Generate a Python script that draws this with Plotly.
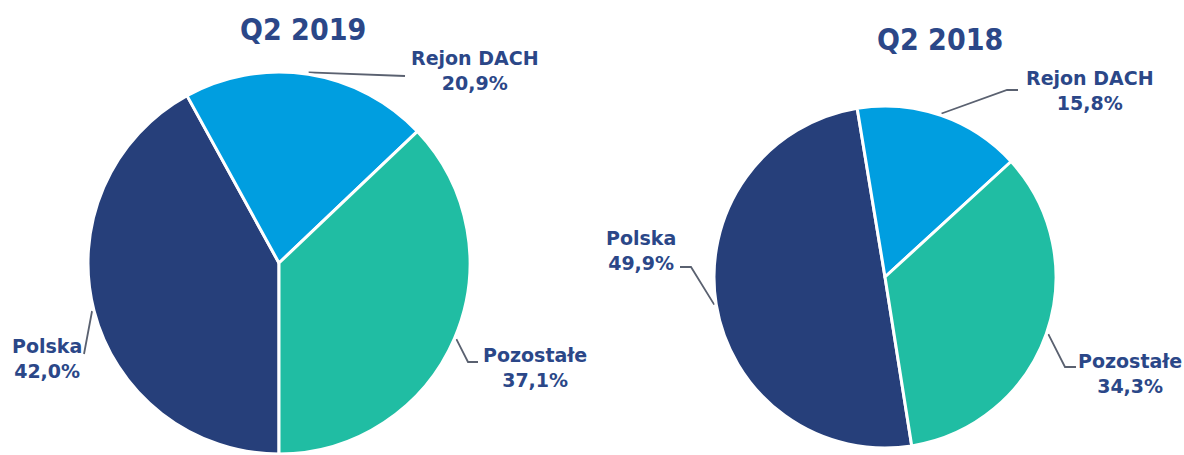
import math
import plotly.graph_objects as go

# ---- data ----
categories = ["Polska", "Rejon DACH", "Pozostałe"]
titles = ["Q2 2019", "Q2 2018"]
values_2019 = [42.0, 20.9, 37.1]
values_2018 = [49.9, 15.8, 34.3]

# ---- style / layout ----
W, H = 1184, 455
colors = ["#263F7A", "#009EE0", "#20BDA3"]
text_color = "#2B4788"
line_color = "#5A6170"
label_font = dict(family="DejaVu Sans, Verdana, sans-serif", size=19, color=text_color, weight="bold")
title_font = dict(family="DejaVu Sans Condensed, DejaVu Sans, sans-serif", size=30, color=text_color, weight="bold")

pies = [
    dict(values=values_2019, title=titles[0], cx=279, cy=263, r=191, rotation=180,
         title_xy=(303, 29),
         label_xy=[(47, 358), (475, 70), (535, 367)],
         leader=[[(84, 354)], [(405, 76)], [(468, 362), (478, 362)]]),
    dict(values=values_2018, title=titles[1], cx=885, cy=277, r=171, rotation=171,
         title_xy=(940, 39),
         label_xy=[(641, 250), (1090, 90), (1130, 373)],
         leader=[[(691, 267), (680, 267)], [(1007, 90), (1018, 90)], [(1065, 367), (1076, 367)]]),
]

fig = go.Figure()
annotations = []

for p in pies:
    cx, cy, r = p["cx"], p["cy"], p["r"]
    fig.add_trace(go.Pie(
        labels=categories, values=p["values"], sort=False, direction="clockwise",
        rotation=p["rotation"], textinfo="none", hoverinfo="label+percent",
        marker=dict(colors=colors, line=dict(color="white", width=3)),
        domain=dict(x=[(cx - r) / W, (cx + r) / W], y=[(H - cy - r) / H, (H - cy + r) / H]),
        showlegend=False,
    ))
    total = sum(p["values"])
    ang = p["rotation"]
    for i, v in enumerate(p["values"]):
        span = 360.0 * v / total
        mid = math.radians(ang + span / 2)
        ang += span
        sx = cx + (r + 2) * math.sin(mid)
        sy = cy - (r + 2) * math.cos(mid)
        pts = [(sx, sy)] + p["leader"][i]
        fig.add_trace(go.Scatter(
            x=[q[0] for q in pts], y=[q[1] for q in pts], mode="lines",
            line=dict(color=line_color, width=1.8), hoverinfo="skip", showlegend=False,
            xaxis="x", yaxis="y",
        ))
        lx, ly = p["label_xy"][i]
        txt = f"{categories[i]}<br>{v:.1f}%".replace(".", ",")
        annotations.append(dict(x=lx, y=ly, xref="x", yref="y", text=txt, showarrow=False,
                                font=label_font, align="center", xanchor="center", yanchor="middle"))
    tx, ty = p["title_xy"]
    annotations.append(dict(x=tx, y=ty, xref="x", yref="y", text=p["title"], showarrow=False,
                            font=title_font, xanchor="center", yanchor="middle"))

fig.update_layout(
    width=W, height=H,
    margin=dict(l=0, r=0, t=0, b=0),
    paper_bgcolor="white", plot_bgcolor="rgba(0,0,0,0)",
    xaxis=dict(range=[0, W], visible=False, fixedrange=True, domain=[0, 1]),
    yaxis=dict(range=[H, 0], visible=False, fixedrange=True, domain=[0, 1]),
    annotations=annotations,
)

fig.write_html("out.html", config={"displayModeBar": False},
               post_script="document.body.style.margin='0';document.body.style.overflow='hidden';")
